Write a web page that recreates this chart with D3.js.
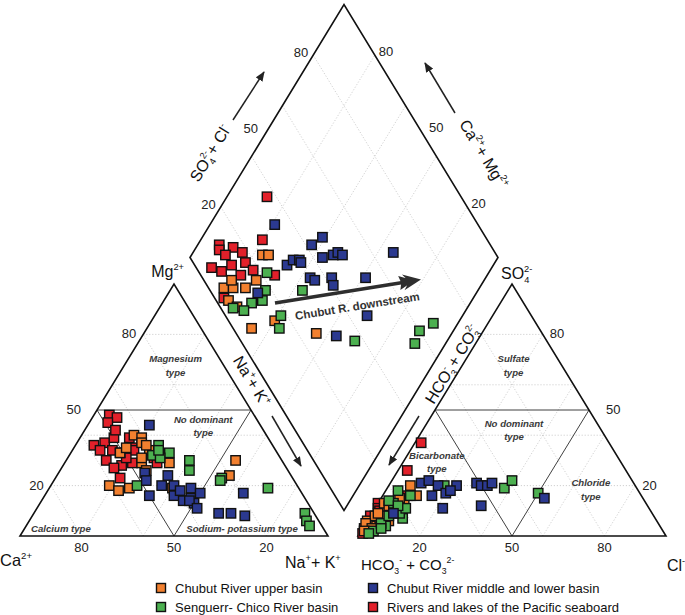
<!DOCTYPE html>
<html><head><meta charset="utf-8">
<script src="https://cdn.jsdelivr.net/npm/d3@7"></script>
<style>
body{margin:0;background:#fff}
svg{display:block}
text{font-family:"Liberation Sans",Arial,Helvetica,sans-serif}
</style>
</head><body>
<svg id="chart" width="685" height="615"></svg>
<script>
// ---------- DATA (percent of meq) ----------
// Cation triangle: [Mg %, Na+K %]
const cationOrange = [[40,17],[39,20],[33,16],[34,25],[29,25],[29,34],[20,19],[18,23],[19,26],[37,21],[31,24],[30,55],[24,56],[19,40],[35,17],[36,23],[26,28]];
const cationGreen  = [[36,27],[33,32],[30,40],[26,42],[32,27],[31,30],[20,28],[23,54],[22,54],[19,71],[9,88],[6,90],[4,92],[34,28]];
const cationBlue   = [[44,20],[25,28],[22,30],[16,34],[20,36],[24,36],[20,40],[16,42],[18,43],[19,46],[14,46],[15,48],[13,50],[17,50],[17,64],[9,60],[9,64],[8,69],[14,48],[11,52]];
const cationRed    = [[48,5],[47,8],[45,6],[36,6],[37,9],[39,11],[34,13],[30,13],[28,19],[39,16],[35,19],[23,21],[34,20],[29,22],[31,28],[31,19],[34,9],[29,30],[42,10],[33,16],[27,17]];
// Anion triangle: [SO4 %, Cl %]
const anionOrange = [[20,7],[16,11],[10,7],[10,4],[6,5],[4,2],[6,0],[13,2],[8,1.5],[6,7],[11,6],[5,0],[14,8],[3,3],[8,4],[12,4],[9,2],[2,1],[15,6]];
const anionGreen  = [[18,4],[13,5],[7,11],[4,7],[2,4],[14,3],[1,3],[10,8],[19,38],[22,39],[17,50],[20,18],[9,9],[5,5],[3,6],[11,10],[16,9],[8,6],[12,7]];
const anionBlue   = [[21,10],[22,12],[20,16],[16,16],[17,20],[20,22],[18,21],[21,28],[20,30],[20,32],[21,33],[11,22],[12,34],[9,7],[15,53]];
const anionRed    = [[37,2],[26,3],[16,8],[3,0.5],[13,0],[11,1],[5,1],[8,0],[2,2],[7,3],[10,2],[4,1],[1,1]];
// Diamond: [Na+K %, SO4+Cl %]
const diamondOrange = [[23,24],[25,26],[17,5],[20,8],[24,12],[26,17],[18,9],[21,4],[25,5.5],[40,15],[34,6],[56,26]];
const diamondGreen  = [[28,22],[31,18],[32,15],[29,11],[28,7],[43,30],[41,18],[43,15],[24,4],[89,60],[92,66],[90,56],[70,37]];
const diamondBlue   = [[21,34],[29,15],[33,30],[34,33],[36,35],[37,42],[39,47],[43,43],[43,35],[45,36],[46,47],[47,49],[49,50],[65,67],[50,42],[52,41],[61,53],[69,46],[37,35],[63,32]];
const diamondRed    = [[13,37],[20,27],[7,12],[12,16],[8,11],[16,18],[11,12],[19,17],[9,5],[13,7.5],[15,12],[23,18],[31,24],[19,3],[20,13]];

const seriesNames  = ["Chubut River upper basin","Senguerr- Chico River basin","Chubut River middle and lower basin","Rivers and lakes of the Pacific seaboard"];
const seriesColors = ["#f2802f","#4cb050","#2b3990","#e2202a"];
const gridValues = [20,40,60,80];
const tickLabels = [20,50,80];
const classBreak = 50;

// ---------- SCALES ----------
const svg = d3.select("#chart");
svg.append("rect").attr("width",685).attr("height",615).attr("fill","#fff");

const xCat = d3.scaleLinear().domain([0,100]).range([20,328]);
const xAn  = d3.scaleLinear().domain([0,100]).range([358,666]);
const yTri = d3.scaleLinear().domain([0,100]).range([536,284]);
const xDia = d3.scaleLinear().domain([0,200]).range([190,498]);
const yDia = d3.scaleLinear().domain([-100,100]).range([510.5,4.5]);

const catPt = (mg,na) => [xCat(na+mg/2), yTri(mg)];
const anPt  = (so4,cl) => [xAn(cl+so4/2), yTri(so4)];
const diaPt = (na,sc) => [xDia(na+sc), yDia(sc-na)];

const line = d3.line();
const gGrid = svg.append("g").attr("fill","none").attr("stroke","#bdbdbd").attr("stroke-width",0.7).attr("stroke-dasharray","1.2,1.8");
const gClass = svg.append("g").attr("fill","none").attr("stroke","#2a2a2a").attr("stroke-width",0.9);
const gOut = svg.append("g").attr("fill","none").attr("stroke","#111").attr("stroke-width",1.6).attr("stroke-linejoin","miter");

[catPt, anPt].forEach(P => {
  gridValues.forEach(k => {
    gGrid.append("path").attr("d", line([P(k,0), P(k,100-k)]));
    gGrid.append("path").attr("d", line([P(0,k), P(100-k,k)]));
    gGrid.append("path").attr("d", line([P(0,100-k), P(100-k,0)]));
  });
  gClass.append("path").attr("d", line([P(classBreak,0), P(classBreak,100-classBreak)]));
  gClass.append("path").attr("d", line([P(classBreak,0), P(0,100-classBreak)]));
  gClass.append("path").attr("d", line([P(classBreak,100-classBreak), P(0,classBreak)]));
  gOut.append("path").attr("d", line([P(0,0), P(0,100), P(100,0)]) + "Z");
});
gridValues.forEach(k => {
  gGrid.append("path").attr("d", line([diaPt(k,0), diaPt(k,100)]));
  gGrid.append("path").attr("d", line([diaPt(0,k), diaPt(100,k)]));
});
gOut.append("path").attr("d", line([diaPt(0,0), diaPt(0,100), diaPt(100,100), diaPt(100,0)]) + "Z");

// ---------- TEXT HELPERS ----------
function rich(g, segs, size, attrs){
  const t = g.append("text").attr("font-size", size).attr("fill", "#111");
  Object.entries(attrs||{}).forEach(([k,v]) => t.attr(k,v));
  let cur = 0, prevSubLen = 0;
  segs.forEach(s => {
    const txt = typeof s === "string" ? s : s.t;
    const type = typeof s === "string" ? null : s.s;
    let target = 0, fs = size;
    if (type === "sup") { target = -size*0.45; fs = size*0.58; }
    if (type === "sub") { target = size*0.25; fs = size*0.58; }
    const ts = t.append("tspan").attr("font-size", fs).attr("dy", target - cur).text(txt);
    if (type === "sup" && s.stack) ts.attr("dx", -prevSubLen*fs*0.56);
    prevSubLen = type === "sub" ? txt.length : 0;
    cur = target;
  });
  return t;
}
const gTxt = svg.append("g");

tickLabels.forEach(k => {
  const off = k === 50 ? 16 : 7;
  let p = catPt(k,0);
  gTxt.append("text").attr("x",p[0]-off).attr("y",p[1]+4).attr("text-anchor","end").attr("font-size",13).attr("fill","#222").text(k);
  p = catPt(0,100-k);
  gTxt.append("text").attr("x",p[0]).attr("y",p[1]+16).attr("text-anchor","middle").attr("font-size",13).attr("fill","#222").text(k);
  p = anPt(0,k);
  gTxt.append("text").attr("x",p[0]).attr("y",p[1]+16).attr("text-anchor","middle").attr("font-size",13).attr("fill","#222").text(k);
  p = anPt(k,100-k);
  gTxt.append("text").attr("x",p[0]+(k===50?17:7)).attr("y",p[1]+4).attr("text-anchor","start").attr("font-size",13).attr("fill","#222").text(k);
  p = diaPt(0,k);
  gTxt.append("text").attr("x",p[0]-(k===50?9:5)).attr("y",p[1]+2).attr("text-anchor","end").attr("font-size",13).attr("fill","#222").text(k);
  p = diaPt(100-k,100);
  gTxt.append("text").attr("x",p[0]+(k===50?8:4)).attr("y",p[1]+1).attr("text-anchor","start").attr("font-size",13).attr("fill","#222").text(k);
});

const regionLabels = [
  [catPt, 69, 16, ["Magnesium","type"]],
  [catPt, 45, 37, ["No dominant","type"]],
  [catPt, 1.6, 12.5, ["Calcium type"]],
  [catPt, 1.6, 71.3, ["Sodium- potassium type"]],
  [anPt, 69, 16, ["Sulfate","type"]],
  [anPt, 43.3, 29, ["No dominant","type"]],
  [anPt, 30.6, 10.3, ["Bicarbonate","type"]],
  [anPt, 19.8, 65.7, ["Chloride","type"]]
];
regionLabels.forEach(([P,a,b,lines]) => {
  const p = P(a,b);
  lines.forEach((l,i) => {
    gTxt.append("text").attr("x",p[0]).attr("y",p[1]+i*13.5).attr("text-anchor","middle")
      .attr("font-size",9.6).attr("font-weight","bold").attr("font-style","italic").attr("fill","#3a3a3a").text(l);
  });
});

rich(gTxt, ["Mg",{t:"2+",s:"sup"}], 16, {x:184, y:277, "text-anchor":"end"});
rich(gTxt, ["SO",{t:"4",s:"sub"},{t:"2-",s:"sup",stack:true}], 16, {x:501, y:279});
rich(gTxt, ["Ca",{t:"2+",s:"sup"}], 16.5, {x:0, y:566});
rich(gTxt, ["Na",{t:"+",s:"sup"},"+ K",{t:"+",s:"sup"}], 16, {x:285, y:568});
rich(gTxt, ["HCO",{t:"3",s:"sub"},{t:"-",s:"sup"}," + CO",{t:"3",s:"sub"},{t:"2-",s:"sup"}], 15, {x:361, y:570});
rich(gTxt, ["Cl",{t:"-",s:"sup"}], 16, {x:667, y:571});

const ang = Math.atan2(252,154)*180/Math.PI;
rich(gTxt, ["SO",{t:"4",s:"sub"},{t:"2-",s:"sup",stack:true},"+ Cl",{t:"-",s:"sup"}], 16, {"text-anchor":"middle", transform:`translate(215,156) rotate(${-ang})`});
rich(gTxt, ["Ca",{t:"2+",s:"sup"},"+ Mg",{t:"2+",s:"sup"}], 16, {"text-anchor":"middle", transform:`translate(479,157) rotate(${ang})`});
rich(gTxt, ["Na",{t:"+",s:"sup"},"+ K",{t:"+",s:"sup"}], 16, {"text-anchor":"middle", transform:`translate(247,384) rotate(${ang})`});
rich(gTxt, ["HCO",{t:"3",s:"sub"},{t:"-",s:"sup",stack:true}," + CO",{t:"3",s:"sub"},{t:"2-",s:"sup",stack:true}], 16, {"text-anchor":"middle", transform:`translate(457,367) rotate(${-ang})`});

const defs = svg.append("defs");
defs.append("marker").attr("id","ah").attr("viewBox","0 0 10 8").attr("refX",9).attr("refY",4)
  .attr("markerWidth",10).attr("markerHeight",8).attr("markerUnits","userSpaceOnUse").attr("orient","auto")
  .append("path").attr("d","M0,0 L10,4 L0,8 Z").attr("fill","#222");
const axisArrows = [[[233,120],[264,72]],[[455,113],[425,63]],[[272,416],[301,466]],[[419,416],[389,465]]];
axisArrows.forEach(([a,b]) => {
  svg.append("path").attr("d", line([a,b])).attr("stroke","#222").attr("stroke-width",1.5).attr("fill","none").attr("marker-end","url(#ah)");
});

const cs = [275,303], ce = [421,279.5];
const cang = Math.atan2(ce[1]-cs[1], ce[0]-cs[0])*180/Math.PI;
const crad = cang*Math.PI/180;
svg.append("path").attr("d", line([cs,[ce[0]-12*Math.cos(crad), ce[1]-12*Math.sin(crad)]])).attr("stroke","#2e2e2e").attr("stroke-width",3.6).attr("fill","none");
svg.append("path").attr("d","M0,0 L-18,-8 L-12,0 L-18,8 Z M-7,0 L-22,-7 L-20,0 L-22,7 Z")
  .attr("transform",`translate(${ce[0]},${ce[1]}) rotate(${cang})`).attr("fill","#2e2e2e");
svg.append("text").attr("transform",`translate(358,310) rotate(${cang})`).attr("text-anchor","middle")
  .attr("font-size",11.5).attr("font-weight","bold").attr("fill","#333").text("Chubut R. downstream");

// ---------- POINTS ----------
const gPts = svg.append("g");
const ms = 9.4;
function plot(data, P, color){
  gPts.append("g").selectAll("rect").data(data).join("rect")
    .attr("x", d => P(d[0],d[1])[0]-ms/2).attr("y", d => P(d[0],d[1])[1]-ms/2)
    .attr("width", ms).attr("height", ms).attr("fill", color).attr("stroke","#111").attr("stroke-width",1.4);
}
plot(cationRed, catPt, seriesColors[3]);
plot(cationOrange, catPt, seriesColors[0]);
plot(cationGreen, catPt, seriesColors[1]);
plot(cationBlue, catPt, seriesColors[2]);
plot(anionRed, anPt, seriesColors[3]);
plot(anionOrange, anPt, seriesColors[0]);
plot(anionGreen, anPt, seriesColors[1]);
plot(anionBlue, anPt, seriesColors[2]);
plot(diamondRed, diaPt, seriesColors[3]);
plot(diamondOrange, diaPt, seriesColors[0]);
plot(diamondGreen, diaPt, seriesColors[1]);
plot(diamondBlue, diaPt, seriesColors[2]);

// ---------- LEGEND ----------
const legendPos = [[161,588],[161,607],[373,588],[373,607]];
[0,1,2,3].forEach((si,i) => {
  const [lx,ly] = legendPos[i];
  svg.append("rect").attr("x",lx-4.5).attr("y",ly-4.5).attr("width",9).attr("height",9)
    .attr("fill",seriesColors[si]).attr("stroke","#111").attr("stroke-width",1.4);
  svg.append("text").attr("x",lx+14).attr("y",ly+4.8).attr("font-size",13).attr("fill","#111").text(seriesNames[si]);
});
</script>
</body></html>
